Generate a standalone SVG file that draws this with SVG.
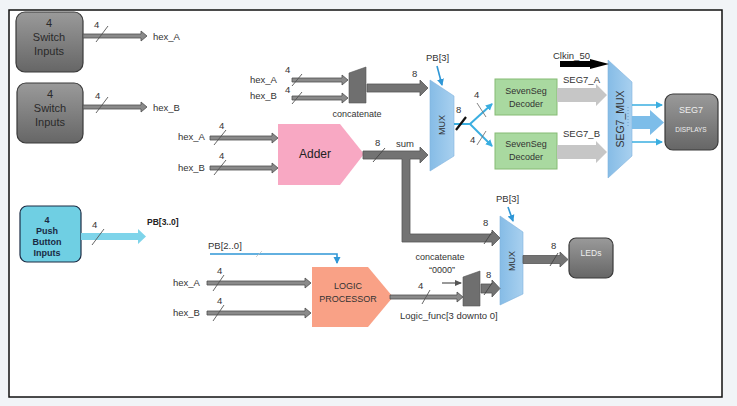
<svg xmlns="http://www.w3.org/2000/svg" width="737" height="406" viewBox="0 0 737 406">
<defs>
<linearGradient id="gbox" x1="0" y1="0" x2="0" y2="1"><stop offset="0" stop-color="#9a9a9a"/><stop offset="1" stop-color="#666"/></linearGradient>
<linearGradient id="gmux" x1="0" y1="0" x2="1" y2="0"><stop offset="0" stop-color="#86bce6"/><stop offset="1" stop-color="#a8d0ef"/></linearGradient>
<marker id="ab" markerWidth="8" markerHeight="8" refX="6" refY="4" orient="auto" markerUnits="userSpaceOnUse"><path d="M0,0.5 L7,4 L0,7.5 Z" fill="#2f97d6"/></marker>
<marker id="ac" markerWidth="8" markerHeight="8" refX="6" refY="4" orient="auto" markerUnits="userSpaceOnUse"><path d="M0,0.5 L7,4 L0,7.5 Z" fill="#3aaee0"/></marker>
<marker id="ak" markerWidth="8" markerHeight="8" refX="6" refY="4" orient="auto" markerUnits="userSpaceOnUse"><path d="M0,1 L7,4 L0,7 Z" fill="#555"/></marker>
</defs>
<style>
text{font-family:"Liberation Sans",Arial,sans-serif;fill:#333;font-size:9px}
.c{text-anchor:middle}
.lbl{font-size:9.5px}
.box{fill:url(#gbox);stroke:#3a3a3a;stroke-width:1.2}
.mux{fill:url(#gmux);stroke:#7fb2de;stroke-width:0.6}
.bar{fill:#8a8a8a;stroke:#4e4e4e;stroke-width:0.8}
.bbar{fill:#737373;stroke:#555;stroke-width:0.8}
.lbar{fill:#c6c6c6}
.sl{stroke:#555;stroke-width:0.9;fill:none}
.blu{stroke:#2f97d6;stroke-width:1.6;fill:none}
.cyan{stroke:#3aaee0;stroke-width:2;fill:none}
.dec{fill:#a9d9a0;stroke:#86bb75;stroke-width:1}
.bw{font-size:11px;fill:#2a2a2a}
</style>
<rect x="0" y="0" width="737" height="406" fill="#f1f4f7"/>
<rect x="9" y="10" width="713" height="387" fill="#fff" stroke="#111" stroke-width="1.5"/>

<g id="switch1"><rect class="box" x="16" y="12" width="67" height="60" rx="9"/>
<text class="c bw" x="49" y="27">4</text><text class="c bw" x="49" y="41">Switch</text><text class="c bw" x="49" y="55">Inputs</text></g>
<g id="switch2"><rect class="box" x="17" y="83" width="66" height="60" rx="9"/>
<text class="c bw" x="50" y="98">4</text><text class="c bw" x="50" y="112">Switch</text><text class="c bw" x="50" y="126">Inputs</text></g>
<g id="pushbtn"><rect x="20" y="206" width="61" height="56" rx="7" fill="#6fcfe3" stroke="#1c2c45" stroke-width="1.2"/>
<text class="c" x="47" y="223" style="font-weight:bold;fill:#1a2a44">4</text>
<text class="c" x="47" y="234" style="font-weight:bold;fill:#1a2a44">Push</text>
<text class="c" x="47" y="245" style="font-weight:bold;fill:#1a2a44">Button</text>
<text class="c" x="47" y="256" style="font-weight:bold;fill:#1a2a44">Inputs</text></g>

<g id="concat1"><polygon points="349,73 366,67 366,103 349,103" fill="#6f6f6f" stroke="#555" stroke-width="0.6"/>
<text class="c" x="357" y="117">concatenate</text></g>
<g id="adder"><polygon points="278,124 340,124 364,154 340,185 278,185" fill="#f8a8c3"/>
<text class="c" x="315" y="158" style="font-size:12px;fill:#222">Adder</text></g>
<g id="mux1"><polygon class="mux" points="430,80 454,96 454,156 430,171"/>
<text class="c" transform="translate(445,125) rotate(-90)" style="font-size:9px">MUX</text></g>
<g id="dec1"><rect class="dec" x="495" y="79" width="62" height="36"/>
<text class="c" x="526" y="94">SevenSeg</text><text class="c" x="526" y="107">Decoder</text></g>
<g id="dec2"><rect class="dec" x="495" y="133" width="62" height="36"/>
<text class="c" x="526" y="147">SevenSeg</text><text class="c" x="526" y="160">Decoder</text></g>
<g id="seg7mux"><polygon class="mux" points="608,60 632,82 632,156 608,178"/>
<text class="c" transform="translate(624,119) rotate(-90)" style="font-size:10.5px">SEG7_MUX</text>
<line x1="628" y1="107" x2="628" y2="127" stroke="#5a8fc0" stroke-width="0.8" stroke-dasharray="1,2"/></g>
<g id="seg7disp"><rect class="box" x="665" y="94" width="53" height="56" rx="8"/>
<text class="c" x="691" y="113" style="fill:#eee;font-size:9px">SEG7</text><text class="c" x="691" y="132" style="fill:#eee;font-size:6.5px">DISPLAYS</text></g>
<g id="logic"><polygon points="312,267 368,267 393,297 368,327 312,327" fill="#f9a186"/>
<text class="c" x="348" y="289" style="fill:#333">LOGIC</text><text class="c" x="348" y="302" style="fill:#333">PROCESSOR</text></g>
<g id="concat2"><polygon points="463,277 480,271 480,306 463,306" fill="#6f6f6f" stroke="#555" stroke-width="0.6"/>
<text class="c" x="440" y="260">concatenate</text><text class="c" x="442" y="273">“0000”</text></g>
<g id="mux2"><polygon class="mux" points="500,216 523,232 523,294 500,305"/>
<text class="c" transform="translate(515,261) rotate(-90)" style="font-size:9px">MUX</text></g>
<g id="leds"><rect class="box" x="569" y="238" width="44" height="40" rx="7"/>
<text class="c" x="591" y="256" style="fill:#eee;font-size:8.5px">LEDs</text></g>

<g id="connectors">
<!-- switch outputs -->
<polygon class="bar" points="83,34 141,34 141,31 147,36 141,41 141,38 83,38"/>
<line class="sl" x1="96" y1="42" x2="108" y2="26"/><text x="94" y="28" class="lbl">4</text><text x="153" y="40" class="lbl">hex_A</text>
<polygon class="bar" points="83,105 141,105 141,102 147,107 141,112 141,109 83,109"/>
<line class="sl" x1="96" y1="113" x2="108" y2="97"/><text x="95" y="99" class="lbl">4</text><text x="153" y="111" class="lbl">hex_B</text>
<!-- push button -->
<polygon points="81,233 138,233 138,229 146,236.5 138,244 138,240 81,240" fill="#7ed4ea"/>
<line class="sl" x1="92" y1="245" x2="104" y2="229"/><text x="92" y="228" class="lbl">4</text>
<text x="147" y="225" style="font-weight:bold;font-size:8.5px;fill:#222">PB[3..0]</text>
<!-- concat1 inputs -->
<text x="250" y="83" class="lbl">hex_A</text><text x="285" y="73" class="lbl">4</text>
<polygon class="bar" points="292,78 342,78 342,75 348,80 342,85 342,82 292,82"/><line class="sl" x1="292" y1="86" x2="302" y2="74"/>
<text x="250" y="99" class="lbl">hex_B</text><text x="285" y="93" class="lbl">4</text>
<polygon class="bar" points="292,96 342,96 342,93 348,98 342,103 342,100 292,100"/><line class="sl" x1="292" y1="104" x2="302" y2="92"/>
<!-- concat1 -> mux1 -->
<polygon class="bbar" points="367,84 420,84 420,80 428,88 420,96 420,92 367,92"/>
<text x="412" y="77" class="lbl">8</text>
<!-- adder inputs -->
<text x="178" y="140" class="lbl">hex_A</text><text x="219" y="129" class="lbl">4</text>
<polygon class="bar" points="210,136 272,136 272,133 278,138 272,143 272,140 210,140"/><line class="sl" x1="214" y1="145" x2="226" y2="130"/>
<text x="178" y="171" class="lbl">hex_B</text><text x="219" y="159" class="lbl">4</text>
<polygon class="bar" points="210,166 272,166 272,163 278,168 272,173 272,170 210,170"/><line class="sl" x1="214" y1="175" x2="226" y2="160"/>
<!-- sum -->
<polygon class="bbar" points="363,151 420,151 420,147 428,155 420,163 420,159 410,159 410,234 492,234 492,230 500,238 492,246 492,242 402,242 402,159 363,159"/>
<line class="sl" x1="373" y1="162" x2="385" y2="148" style="stroke:#444"/>
<text x="375" y="146" class="lbl">8</text><text x="396" y="147" class="lbl">sum</text>
<text x="483" y="226" class="lbl">8</text><line class="sl" x1="484" y1="244" x2="492" y2="232" style="stroke:#444"/>
<!-- PB[3] to mux1 -->
<text x="426" y="61" class="lbl">PB[3]</text>
<line class="blu" x1="437" y1="66" x2="442" y2="85" marker-end="url(#ab)"/>
<!-- mux1 -> decoders -->
<polyline class="cyan" points="454,124 470,124"/>
<line class="cyan" x1="470" y1="124" x2="492" y2="104" marker-end="url(#ac)"/>
<line class="cyan" x1="470" y1="124" x2="492" y2="146" marker-end="url(#ac)"/>
<line x1="456" y1="130" x2="466" y2="117" stroke="#111" stroke-width="2.2"/>
<text x="456" y="113" class="lbl">8</text>
<text x="474" y="98" class="lbl">4</text><line class="sl" x1="477" y1="103" x2="486" y2="117" style="stroke:#777"/>
<text x="470" y="143" class="lbl">4</text><line class="sl" x1="477" y1="145" x2="486" y2="131" style="stroke:#777"/>
<!-- decoders -> seg7mux -->
<polygon class="lbar" points="557,88 596,88 596,84 607,95 596,106 596,102 557,102"/>
<polygon class="lbar" points="557,145 596,145 596,141 607,152 596,163 596,159 557,159"/>
<text x="563" y="83" class="lbl">SEG7_A</text><text x="563" y="137" class="lbl">SEG7_B</text>
<!-- clock -->
<text x="553" y="59" class="lbl">Clkin_50</text>
<polygon points="560,61 590,61 590,59 609,64 590,69 590,67 560,67" fill="#000"/>
<!-- seg7mux -> displays -->
<line x1="632" y1="105" x2="662" y2="105" stroke="#3aaee0" stroke-width="1.5" marker-end="url(#ac)"/>
<line x1="632" y1="142" x2="662" y2="142" stroke="#3aaee0" stroke-width="1.5" marker-end="url(#ac)"/>
<polygon points="632,116 650,116 650,110 664,122.5 650,135 650,129 632,129" fill="#7dbde9"/>
<!-- PB[2..0] -->
<text x="208" y="249" class="lbl">PB[2..0]</text>
<polyline class="blu" points="210,254 337,254 337,263" marker-end="url(#ab)"/>
<line x1="256" y1="257" x2="262" y2="251" stroke="#bbb" stroke-width="0.7"/>
<!-- logic inputs -->
<text x="173" y="286" class="lbl">hex_A</text><text x="217" y="274" class="lbl">4</text>
<polygon class="bar" points="207,281 305,281 305,278 311,283 305,288 305,285 207,285"/><line class="sl" x1="213" y1="291" x2="224" y2="275"/>
<text x="173" y="316" class="lbl">hex_B</text><text x="217" y="304" class="lbl">4</text>
<polygon class="bar" points="207,311 305,311 305,308 311,313 305,318 305,315 207,315"/><line class="sl" x1="213" y1="321" x2="224" y2="305"/>
<!-- logic out -> concat2 -->
<polygon class="bar" points="390,295 457,295 457,292 463,297 457,302 457,299 390,299"/>
<line class="sl" x1="422" y1="304" x2="430" y2="290"/><text x="418" y="289" class="lbl">4</text>
<text x="400" y="319" class="lbl">Logic_func[3 downto 0]</text>
<line x1="442" y1="283" x2="461" y2="283" stroke="#555" stroke-width="1.2" marker-end="url(#ak)"/>
<!-- concat2 -> mux2 -->
<polygon class="bbar" points="481,284 492,284 492,280 500,288.5 492,297 492,293 481,293"/>
<text x="486" y="278" class="lbl">8</text><line class="sl" x1="484" y1="295" x2="492" y2="283" style="stroke:#444"/>
<!-- PB[3] to mux2 -->
<text x="496" y="202" class="lbl">PB[3]</text>
<line class="blu" x1="508" y1="207" x2="513" y2="221" marker-end="url(#ab)"/>
<!-- mux2 -> LEDs -->
<polygon class="bbar" points="523,255.5 560,255.5 560,252 568,259.5 560,267 560,263.5 523,263.5"/>
<text x="551" y="249" class="lbl">8</text><line class="sl" x1="550" y1="266" x2="558" y2="253" style="stroke:#444"/>
</g>
</svg>
